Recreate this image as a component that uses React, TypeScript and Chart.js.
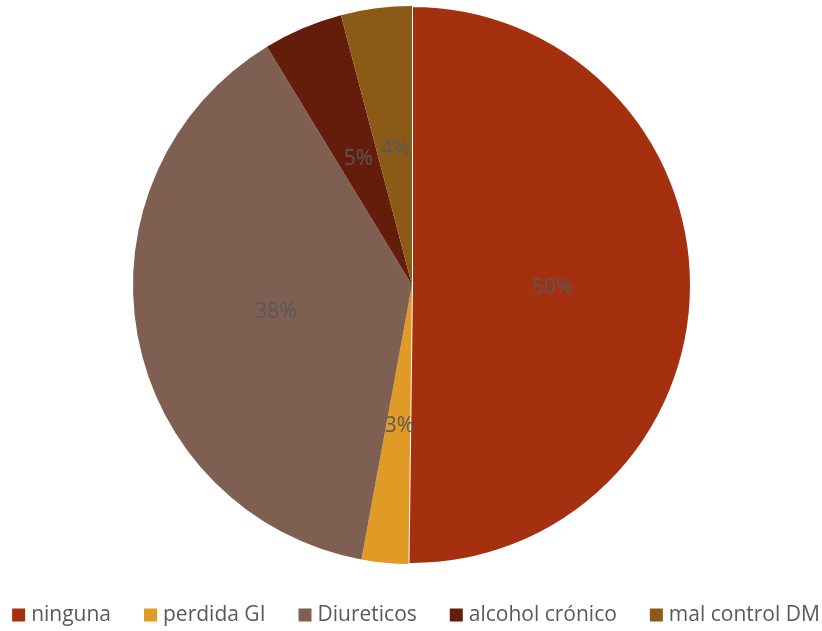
import React, { useEffect, useRef } from "react";
import { Chart, registerables } from "chart.js";

Chart.register(...registerables);

const categories = ["ninguna", "perdida GI", "Diureticos", "alcohol crónico", "mal control DM"];
const values = [50.2, 2.7, 38.4, 4.6, 4.1];
const colors = ["#A5300F", "#E29A27", "#7F5F52", "#641C0B", "#8B5A16"];
const borderWidths = [2, 0, 0, 0, 0];

const FONT = "'Open Sans', sans-serif";
const TEXT_COLOR = "#595959";

const labelPlugin = {
  id: "sliceLabels",
  afterDatasetsDraw(chart: any) {
    const ctx = chart.ctx;
    const meta = chart.getDatasetMeta(0);
    const data = chart.data.datasets[0].data as number[];
    const total = data.reduce((a, b) => a + b, 0);
    ctx.save();
    ctx.font = `21px ${FONT}`;
    ctx.fillStyle = TEXT_COLOR;
    ctx.textAlign = "center";
    ctx.textBaseline = "middle";
    meta.data.forEach((arc: any, i: number) => {
      const p = arc.tooltipPosition();
      const pct = Math.round((data[i] / total) * 100) + "%";
      ctx.fillText(pct, p.x + 1, p.y + 2);
    });
    ctx.restore();
  },
};

const legendPlugin = {
  id: "customLegend",
  afterDraw(chart: any) {
    const ctx = chart.ctx;
    const labels = chart.data.labels as string[];
    const bg = chart.data.datasets[0].backgroundColor as string[];
    ctx.save();
    ctx.font = `21px ${FONT}`;
    const box = 13;
    const boxGap = 6;
    const itemGap = 33;
    const widths = labels.map((l) => ctx.measureText(l).width);
    const total =
      widths.reduce((a, b) => a + b, 0) + labels.length * (box + boxGap) + (labels.length - 1) * itemGap;
    let x = 416 - total / 2;
    const baseline = 621;
    ctx.textBaseline = "alphabetic";
    ctx.textAlign = "left";
    labels.forEach((l, i) => {
      ctx.fillStyle = bg[i];
      ctx.fillRect(x, 608.5, box, box);
      x += box + boxGap;
      ctx.fillStyle = TEXT_COLOR;
      ctx.fillText(l, x, baseline);
      x += widths[i] + itemGap;
    });
    ctx.restore();
  },
};

export default function App() {
  const ref = useRef<HTMLCanvasElement>(null);
  useEffect(() => {
    if (!ref.current) return;
    const chart = new Chart(ref.current, {
      type: "pie",
      data: {
        labels: categories,
        datasets: [
          {
            data: values,
            backgroundColor: colors,
            borderColor: "#FFFFFF",
            borderWidth: borderWidths,
          },
        ],
      },
      options: {
        responsive: false,
        animation: false,
        layout: { padding: { top: 5, bottom: 66, left: 2, right: 0 } },
        plugins: {
          legend: { display: false },
          tooltip: { enabled: false },
        },
      },
      plugins: [labelPlugin, legendPlugin],
    });
    return () => chart.destroy();
  }, []);
  return (
    <div style={{ position: "absolute", left: 0, top: 0, width: 822, height: 631, background: "#fff" }}>
      <canvas ref={ref} width={822} height={631} style={{ display: "block" }} />
    </div>
  );
}
